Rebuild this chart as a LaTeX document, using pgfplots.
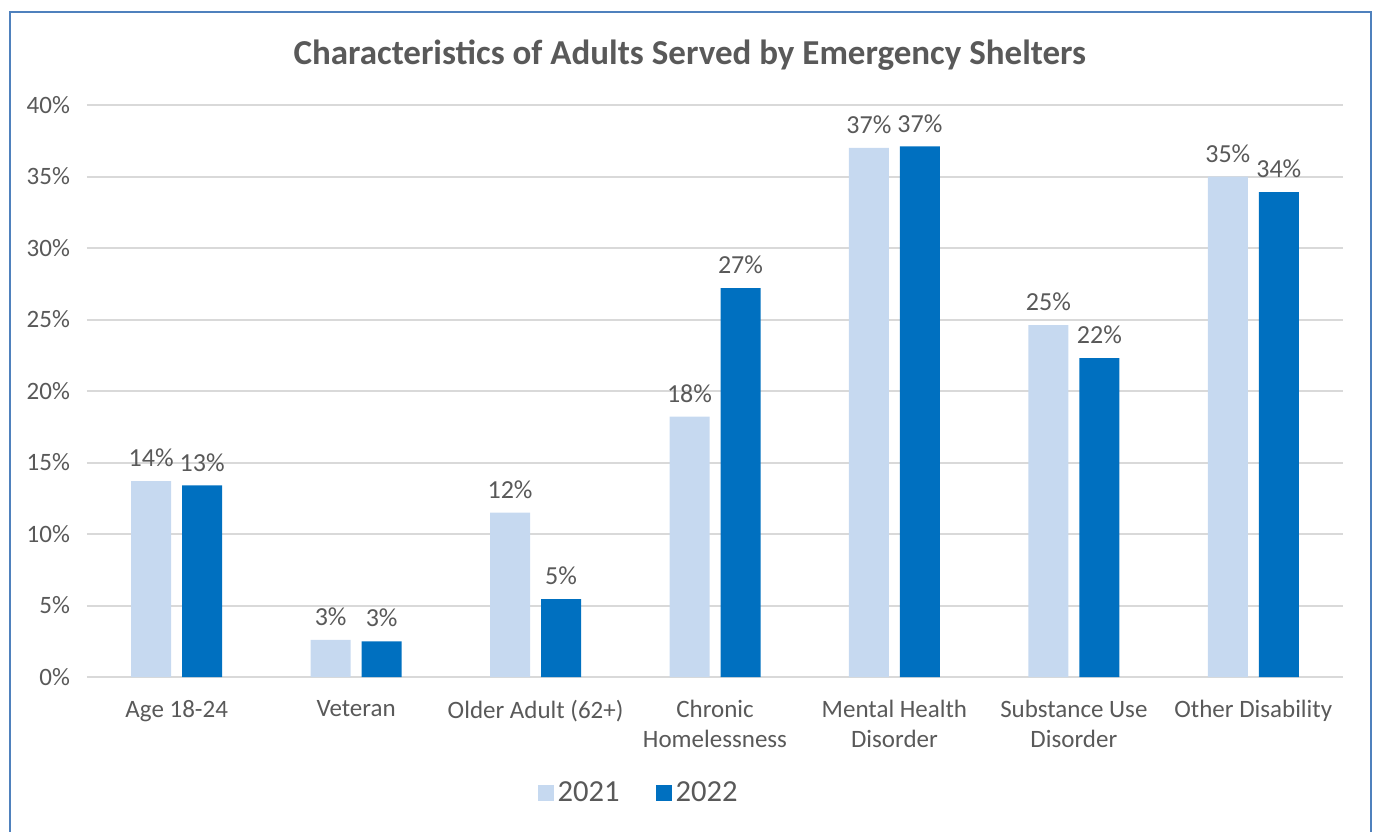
\documentclass[border=0pt]{standalone}
\usepackage{pgfplots}
\pgfplotsset{compat=1.18}
\usepackage{fontspec}
\setmainfont{Carlito}
\definecolor{lightb}{HTML}{C6D9F0}
\definecolor{darkb}{HTML}{0070C0}
\definecolor{txt}{HTML}{595959}
\definecolor{gridc}{HTML}{D9D9D9}
\definecolor{framec}{HTML}{4F81BD}
\begin{document}
\begin{tikzpicture}
\useasboundingbox (0,0) rectangle (687pt,415.5pt);
\draw[framec, line width=1.2pt] (5pt,-3pt) rectangle (685.5pt,409.5pt);
\begin{axis}[
  at={(43.5pt,77pt)}, anchor=south west,
  scale only axis, width=628pt, height=286pt,
  ybar=5.5pt, bar width=20pt,
  xmin=-0.5, xmax=6.5, ymin=0, ymax=40,
  ytick={0,5,...,40},
  yticklabel={\pgfmathprintnumber{\tick}\%},
  xtick={0,...,6},
  xticklabels={Age 18-24, Veteran, Older Adult (62+), Chronic\\Homelessness, Mental Health\\Disorder, Substance Use\\Disorder, Other Disability},
  xticklabel style={align=center, yshift=-8pt, font=\fontsize{12.5}{15}\selectfont, text=txt},
  yticklabel style={xshift=-5pt, font=\fontsize{12.5}{14}\selectfont, text=txt},
  /pgf/number format/assume math mode=true,
  axis lines*=left,
  y axis line style={draw=none},
  x axis line style={draw=gridc, line width=1pt},
  tick style={draw=none}, major tick length=0pt,
  ymajorgrids, grid style={draw=gridc, line width=1pt},
  nodes near coords, point meta=explicit symbolic,
  nodes near coords style={font=\fontsize{13}{15}\selectfont, text=txt, yshift=3.5pt},
  legend columns=2,
  legend style={at={(0.44,-0.203)}, anchor=center, draw=none, font=\fontsize{15.3}{17}\selectfont, text=txt,
    /tikz/every even column/.append style={column sep=16pt}},
  legend image code/.code={\fill[#1] (0pt,-4pt) rectangle (8pt,4pt);},
  clip=false,
]
\addplot[fill=lightb, draw=none] coordinates {
  (0,13.7) [14\%] (1,2.6) [3\%] (2,11.5) [12\%] (3,18.2) [18\%]
  (4,37.0) [37\%] (5,24.6) [25\%] (6,35.0) [35\%]};
\addplot[fill=darkb, draw=none] coordinates {
  (0,13.4) [13\%] (1,2.5) [3\%] (2,5.45) [5\%] (3,27.2) [27\%]
  (4,37.1) [37\%] (5,22.3) [22\%] (6,33.9) [34\%]};
\legend{2021, 2022}
\node[font=\fontsize{17.5}{20}\selectfont\bfseries, text=txt] at (rel axis cs:0.48,1.087) {Characteristics of Adults Served by Emergency Shelters};
\end{axis}
\end{tikzpicture}
\end{document}
